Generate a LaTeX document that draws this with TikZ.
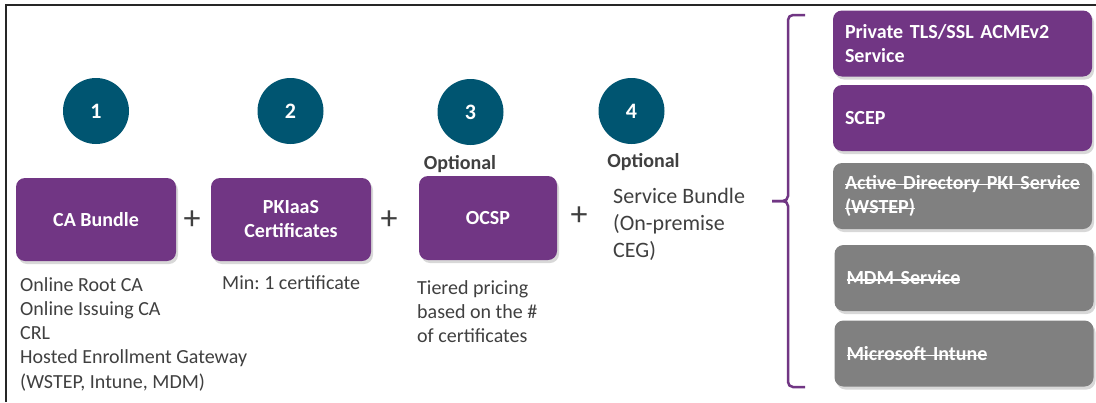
\documentclass[tikz,border=0pt]{standalone}
\usepackage{fontspec}
\setmainfont{Carlito}
\usetikzlibrary{shadows}
\frenchspacing
\definecolor{pkpurple}{HTML}{713684}
\definecolor{pkteal}{HTML}{005571}
\definecolor{pkgray}{HTML}{808080}
\definecolor{pktext}{HTML}{404040}
\newcommand\mystrk[1]{\leavevmode\setbox0\hbox{#1}\rlap{\rule[0.22em]{\wd0}{0.075em}}\box0}
\tikzset{
  numc/.style={circle, fill=pkteal, minimum size=66pt, inner sep=0pt, text=white, font=\fontsize{22}{26}\selectfont\bfseries},
  pbox/.style={rounded corners=9pt, fill=pkpurple, text=white, align=center, inner sep=0pt,
     font=\fontsize{20}{24}\selectfont\bfseries,
     drop shadow={shadow xshift=2pt, shadow yshift=-3pt, opacity=0.3}},
  rbox/.style={rounded corners=9pt, text=white, align=left, inner xsep=12pt, inner ysep=0pt,
     text width=235pt, minimum height=66pt,
     font=\fontsize{20}{24}\selectfont\bfseries,
     drop shadow={shadow xshift=2pt, shadow yshift=-3pt, opacity=0.3}},
  desc/.style={text=pktext, align=left, inner sep=0pt, anchor=north west,
     font=\fontsize{20}{24.3}\selectfont},
  opt/.style={text=pktext, inner sep=0pt, font=\fontsize{20}{24}\selectfont\bfseries},
  plus/.style={text=pktext, inner sep=0pt, font=\fontsize{34}{36}\selectfont},
  brace/.style={draw=pkpurple, line width=2.5pt, rounded corners=5pt}
}
\begin{document}
\begin{tikzpicture}[x=1pt, y=-1pt]
\useasboundingbox (0,0) rectangle (1096,402);
\fill[white] (0,0) rectangle (1096,402);
% frame
\draw[line width=1.6pt, black!85] (6,402) -- (6,5) -- (1096,5);
% numbers
\node[numc] (c1) at (96,111) {1};
\node[numc] (c2) at (290.5,111) {2};
\node[numc] (c3) at (470.5,112) {3};
\node[numc] (c4) at (631.5,111) {4};
% optional labels
\node[opt] (o3) at (460,164) {Optional};
\node[opt] (o4) at (643.5,162) {Optional};
% main boxes
\node[pbox, minimum width=160pt, minimum height=83pt] (ca) at (96,219.5) {CA Bundle};
\node[pbox, minimum width=160pt, minimum height=83pt] (pk) at (291,219.5) {PKIaaS\\Certificates};
\node[pbox, minimum width=138pt, minimum height=84pt] (oc) at (488,218) {OCSP};
% plus signs
\node[plus] (p1) at (192,220) {+};
\node[plus] (p2) at (389,220) {+};
\node[plus] (p3) at (579,216) {+};
% descriptions
\node[desc] (dca) at (20,277) {Online Root CA\\Online Issuing CA\\CRL\\Hosted Enrollment Gateway\\(WSTEP, Intune, MDM)};
\node[desc] (dpk) at (222,275) {Min: 1 certificate};
\node[desc] (doc) at (417,280) {Tiered pricing\\based on the \#\\of certificates};
\node[desc, font=\fontsize{22}{27}\selectfont] (dsb) at (613,188.5) {Service Bundle\\(On-premise\\CEG)};
% brace
\draw[brace] (805,15) -- (788,15) -- (788,201) -- (772,201);
\draw[brace] (772,201) -- (788,201) -- (788,387) -- (805,387);
% right boxes
\node[rbox, fill=pkpurple] (r1) at (962.5,43.5) {Private TLS/SSL ACMEv2\\Service};
\node[rbox, fill=pkpurple] (r2) at (962.5,118) {SCEP};
\node[rbox, fill=pkgray] (r3) at (962.5,196) {\mystrk{Active Directory PKI Service}\\\mystrk{(WSTEP)}};
\node[rbox, fill=pkgray] (r4) at (964,278) {\mystrk{MDM Service}};
\node[rbox, fill=pkgray] (r5) at (964,353.5) {\mystrk{Microsoft Intune}};
\end{tikzpicture}
\end{document}
